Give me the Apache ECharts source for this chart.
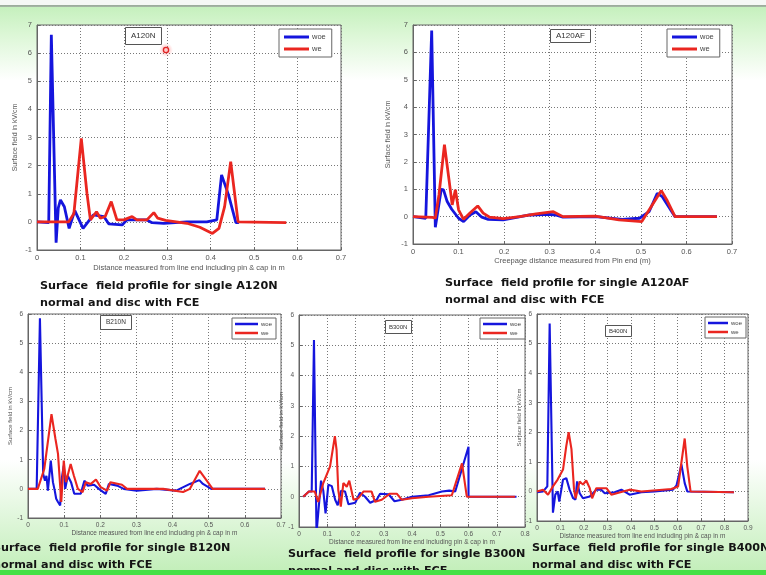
<html>
<head>
<meta charset="utf-8">
<title>Surface field profile</title>
<script src="https://cdn.jsdelivr.net/npm/echarts@6/dist/echarts.min.js"></script>
<style>
  html, body { margin: 0; padding: 0; }
  #main { width: 766px; height: 575px; }
</style>
</head>
<body>
<div id="main"></div>
<script type="text/javascript">
// panel names (box labels) and captions
var plotNames = ['A120N', 'A120AF', 'B210N', 'B300N', 'B400N'];
var captionNames = ['A120N', 'A120AF', 'B120N', 'B300N', 'B400N'];
var seriesNames = ['woe', 'we'];
var xMaxes = [0.7, 0.7, 0.7, 0.8, 0.9];
var yMaxes = [7, 7, 6, 6, 6];
var xTitles = [
    'Distance measured from line end including pin & cap in m',
    'Creepage distance measured from Pin end (m)',
    'Distance measured from line end including pin & cap in m',
    'Distance measured from line end including pin & cap in m',
    'Distance measured from line end including pin & cap in m'
];
var yTitle = 'Surface field in kV/cm';

// A120N
var a120nWoeX = [0, 0.027, 0.033, 0.044, 0.049, 0.054, 0.063, 0.074, 0.087, 0.106, 0.13, 0.154, 0.165, 0.196, 0.207, 0.253, 0.265, 0.292, 0.345, 0.391, 0.414, 0.425, 0.441, 0.458, 0.465];
var a120nWoeY = [0, -0.03, 6.65, -0.74, 0.5, 0.78, 0.54, -0.23, 0.4, -0.23, 0.25, 0.19, -0.07, -0.11, 0.07, 0.07, -0.03, -0.05, 0, 0, 0.07, 1.67, 0.96, -0.03, -0.03];
var a120nWeX = [0, 0.073, 0.085, 0.102, 0.115, 0.123, 0.137, 0.146, 0.157, 0.171, 0.184, 0.2, 0.219, 0.23, 0.253, 0.269, 0.278, 0.296, 0.345, 0.375, 0.404, 0.419, 0.432, 0.446, 0.463, 0.574];
var a120nWeY = [0, 0, 0.3, 2.97, 1.02, 0.07, 0.36, 0.13, 0.19, 0.72, 0.07, 0.07, 0.19, 0.07, 0.07, 0.33, 0.13, 0.05, -0.05, -0.19, -0.41, -0.23, 0.54, 2.14, 0, -0.03];

// A120AF
var a120afWoeX = [0, 0.028, 0.041, 0.049, 0.062, 0.067, 0.075, 0.085, 0.1, 0.111, 0.125, 0.138, 0.151, 0.165, 0.198, 0.256, 0.3, 0.313, 0.329, 0.401, 0.459, 0.497, 0.518, 0.536, 0.547, 0.575, 0.667];
var a120afWoeY = [0, -0.06, 6.8, -0.39, 1.0, 0.98, 0.55, 0.27, -0.06, -0.18, 0.06, 0.18, -0.02, -0.1, -0.12, 0.06, 0.08, 0.06, -0.02, 0, -0.1, -0.06, 0.18, 0.85, 0.73, 0, 0];
var a120afWeX = [0, 0.043, 0.049, 0.057, 0.069, 0.079, 0.086, 0.093, 0.1, 0.111, 0.125, 0.142, 0.154, 0.168, 0.198, 0.234, 0.27, 0.308, 0.329, 0.4, 0.452, 0.502, 0.518, 0.545, 0.557, 0.575, 0.667];
var a120afWeY = [0, -0.03, -0.06, 0.8, 2.63, 1.35, 0.43, 0.98, 0.25, -0.1, 0.13, 0.39, 0.13, -0.02, -0.07, 0, 0.1, 0.18, 0, 0.02, -0.12, -0.18, 0.24, 0.95, 0.61, 0, 0];

// B120N (box label B210N)
var b120nWoeX = [0, 0.024, 0.033, 0.042, 0.047, 0.051, 0.055, 0.063, 0.069, 0.074, 0.078, 0.083, 0.089, 0.094, 0.099, 0.103, 0.11, 0.119, 0.128, 0.146, 0.156, 0.165, 0.183, 0.196, 0.215, 0.224, 0.247, 0.265, 0.301, 0.356, 0.41, 0.448, 0.474, 0.484, 0.507, 0.656];
var b120nWoeY = [0, 0, 5.85, 0.51, 0.28, 0.45, -0.06, 0.97, 0.23, -0.06, -0.34, -0.45, -0.57, 0.4, 0.8, 0, 0.45, 0.23, -0.17, -0.17, 0.28, 0.11, 0.14, 0, -0.17, 0.17, 0.11, 0, -0.06, 0, -0.06, 0.17, 0.3, 0.17, 0, 0];
var b120nWeX = [0, 0.027, 0.045, 0.065, 0.076, 0.083, 0.092, 0.099, 0.105, 0.118, 0.127, 0.138, 0.151, 0.16, 0.174, 0.188, 0.201, 0.219, 0.228, 0.26, 0.274, 0.301, 0.374, 0.429, 0.448, 0.475, 0.511, 0.656];
var b120nWeY = [0, 0, 0.68, 2.56, 1.71, 1.2, -0.45, 0.97, 0.23, 0.85, 0.45, 0, -0.11, 0.23, 0.17, 0.32, 0.06, -0.06, 0.23, 0.14, 0, 0, 0, -0.11, 0, 0.62, 0, 0];

// B300N
var b300nWoeX = [0.015, 0.035, 0.045, 0.053, 0.062, 0.068, 0.078, 0.086, 0.094, 0.104, 0.116, 0.128, 0.137, 0.149, 0.163, 0.175, 0.199, 0.216, 0.234, 0.252, 0.275, 0.287, 0.317, 0.338, 0.364, 0.4, 0.459, 0.506, 0.532, 0.553, 0.6, 0.6, 0.77];
var b300nWoeY = [0, 0.17, 0.17, 5.17, -1.2, -1.2, 0.53, 0.2, -0.55, 0.4, 0.35, -0.1, -0.28, 0.2, 0.17, -0.25, -0.2, 0.13, 0, -0.2, -0.1, 0.1, 0.08, -0.15, -0.1, 0, 0.05, 0.17, 0.2, 0.17, 1.65, 0, 0];
var b300nWeX = [0.015, 0.035, 0.056, 0.068, 0.086, 0.11, 0.127, 0.133, 0.139, 0.148, 0.157, 0.169, 0.178, 0.193, 0.21, 0.228, 0.257, 0.269, 0.293, 0.322, 0.346, 0.364, 0.4, 0.459, 0.541, 0.577, 0.594, 0.765];
var b300nWeY = [0, 0.17, 0.17, -0.17, 0.45, 1.0, 2.0, 1.55, 0.22, -0.33, 0.45, 0.33, 0.53, -0.1, -0.05, 0.17, 0.17, -0.17, -0.1, 0.1, 0.1, -0.1, -0.05, 0, 0.05, 1.1, 0, 0];

// B400N
var b400nWoeX = [0, 0.026, 0.044, 0.054, 0.068, 0.078, 0.088, 0.095, 0.111, 0.125, 0.139, 0.154, 0.164, 0.171, 0.182, 0.196, 0.225, 0.253, 0.274, 0.289, 0.331, 0.36, 0.395, 0.445, 0.502, 0.58, 0.595, 0.616, 0.63, 0.641, 0.84];
var b400nWoeY = [-0.03, 0, 0.17, 5.68, -0.72, -0.11, 0, -0.34, 0.4, 0.45, 0.06, -0.23, -0.28, 0.34, -0.06, -0.23, -0.17, 0.06, 0.06, -0.06, -0.03, 0.06, -0.11, -0.03, 0, 0.06, 0.2, 0.91, 0.28, 0, -0.03];
var b400nWeX = [0, 0.026, 0.047, 0.068, 0.088, 0.111, 0.125, 0.135, 0.147, 0.158, 0.165, 0.182, 0.196, 0.21, 0.225, 0.235, 0.253, 0.296, 0.317, 0.367, 0.395, 0.445, 0.573, 0.602, 0.63, 0.641, 0.655, 0.84];
var b400nWeY = [0, 0.06, -0.11, 0.17, 0.4, 0.74, 1.54, 2.0, 1.43, 0.06, -0.23, 0.34, 0.23, 0.37, 0.11, -0.23, 0.11, 0.11, -0.11, 0, 0.06, 0, 0.08, 0.17, 1.79, 0.85, 0, -0.03];

var woeXs = [a120nWoeX, a120afWoeX, b120nWoeX, b300nWoeX, b400nWoeX];
var woeYs = [a120nWoeY, a120afWoeY, b120nWoeY, b300nWoeY, b400nWoeY];
var weXs = [a120nWeX, a120afWeX, b120nWeX, b300nWeX, b400nWeX];
var weYs = [a120nWeY, a120afWeY, b120nWeY, b300nWeY, b400nWeY];

// layout of each panel (pixels)
var layout = [
    {left: 37, top: 25, width: 304, height: 225, big: true,
     box: [125, 27, [5, 6], 8], legend: [279, 29, 25], xGap: 14, yGap: 18,
     cap: [40, 278]},
    {left: 413, top: 25, width: 319, height: 219, big: true,
     box: [550, 29, [3, 6], 8], legend: [667, 29, 25], xGap: 12, yGap: 21,
     cap: [445, 275]},
    {left: 28, top: 314, width: 253, height: 204, big: false,
     box: [100, 315, [4, 6], 6.5], legend: [232, 318, 23], xGap: 12, yGap: 11,
     cap: [-7, 540]},
    {left: 299, top: 315, width: 226, height: 212, big: false,
     box: [385, 320, [4, 4], 6], legend: [480, 318, 24], xGap: 12, yGap: 10,
     cap: [288, 546]},
    {left: 537, top: 314, width: 211, height: 207, big: false,
     box: [605, 325, [3, 4], 6], legend: [705, 317, 20], xGap: 9, yGap: 2,
     cap: [532, 540]}
];

var blue = '#1515dd';
var red = '#ea2620';

function zip(xs, ys) {
    var out = [];
    for (var i = 0; i < xs.length; i++) out.push([xs[i], ys[i]]);
    return out;
}

var grids = [], xAxes = [], yAxes = [], series = [], titles = [], legends = [], graphics = [];

for (var i = 0; i < 5; i++) {
    var L = layout[i];
    var fs = L.big ? 7.5 : 6.5;
    grids.push({
        left: L.left, top: L.top, width: L.width, height: L.height,
        show: true, backgroundColor: '#fff', borderColor: '#666', borderWidth: 1
    });
    xAxes.push({
        gridIndex: i, type: 'value', min: 0, max: xMaxes[i], interval: 0.1,
        name: xTitles[i], nameLocation: 'middle', nameGap: L.xGap,
        nameTextStyle: {fontSize: fs, color: '#555', fontFamily: 'Liberation Sans'},
        axisLine: {show: true, onZero: false, lineStyle: {color: '#666'}},
        axisTick: {show: true, inside: true, length: 3, lineStyle: {color: '#666'}},
        axisLabel: {fontSize: fs, color: '#555', margin: 4, fontFamily: 'Liberation Sans'},
        splitLine: {show: true, lineStyle: {type: [1, 2], color: '#777'}}
    });
    yAxes.push({
        gridIndex: i, type: 'value', min: -1, max: yMaxes[i], interval: 1,
        name: yTitle, nameLocation: 'middle', nameGap: L.yGap,
        nameTextStyle: {fontSize: fs - 0.5, color: '#555', fontFamily: 'Liberation Sans'},
        axisLine: {show: true, onZero: false, lineStyle: {color: '#666'}},
        axisTick: {show: true, inside: true, length: 3, lineStyle: {color: '#666'}},
        axisLabel: {fontSize: fs, color: '#555', margin: 5, fontFamily: 'Liberation Sans'},
        splitLine: {show: true, lineStyle: {type: [1, 2], color: '#777'}}
    });
    var lw = L.big ? 2.8 : 2.1;
    series.push({
        name: seriesNames[0], type: 'line', xAxisIndex: i, yAxisIndex: i,
        data: zip(woeXs[i], woeYs[i]), symbol: 'none', clip: true,
        lineStyle: {color: blue, width: lw}, itemStyle: {color: blue}, z: 3
    });
    series.push({
        name: seriesNames[1], type: 'line', xAxisIndex: i, yAxisIndex: i,
        data: zip(weXs[i], weYs[i]), symbol: 'none', clip: true,
        lineStyle: {color: red, width: lw}, itemStyle: {color: red}, z: 4
    });
    titles.push({
        text: plotNames[i], left: L.box[0], top: L.box[1], padding: L.box[2],
        borderColor: '#555', borderWidth: 1, backgroundColor: '#fff',
        textStyle: {fontSize: L.box[3], fontWeight: 'normal', color: '#333', fontFamily: 'Liberation Sans'}
    });
    legends.push({
        data: seriesNames, orient: 'vertical', left: L.legend[0], top: L.legend[1],
        itemWidth: L.legend[2], itemHeight: L.big ? 3 : 2.5, icon: 'rect',
        itemGap: L.big ? 4 : 3, padding: L.big ? [4, 6, 4, 5] : [3, 4, 3, 3],
        borderColor: '#666', borderWidth: 1, backgroundColor: '#fff',
        selectedMode: false,
        textStyle: {fontSize: L.big ? 7.5 : 6, color: '#444', fontFamily: 'Liberation Sans', padding: [0, 0, 0, -2]}
    });
    graphics.push({
        type: 'text', left: L.cap[0], top: L.cap[1],
        style: {
            text: 'Surface  field profile for single ' + captionNames[i] + '\nnormal and disc with FCE',
            font: 'bold 11.2px "DejaVu Sans"', fill: '#141414', lineHeight: 17
        }
    });
}

// cursor highlight in first panel
graphics.push({
    type: 'circle', shape: {cx: 166, cy: 50, r: 7},
    style: {fill: {type: 'radial', x: 0.5, y: 0.5, r: 0.5,
        colorStops: [{offset: 0, color: 'rgba(255,60,60,0.55)'}, {offset: 1, color: 'rgba(255,120,120,0)'}]}},
    z: 10
});
graphics.push({
    type: 'circle', shape: {cx: 166, cy: 50, r: 2.6},
    style: {fill: '#ffc8c8', stroke: '#e02525', lineWidth: 1.3},
    z: 11
});
// green strip at the bottom of the slide
graphics.push({
    type: 'rect', shape: {x: 0, y: 570, width: 766, height: 5},
    style: {fill: '#45e045'}, z: 12
});

var myChart = echarts.init(document.getElementById('main'), null, {renderer: 'canvas'});
var option = {
    animation: false,
    backgroundColor: {
        type: 'linear', x: 0, y: 0, x2: 0, y2: 1,
        colorStops: [
            {offset: 0, color: '#f6f8f6'},
            {offset: 0.008, color: '#f6f8f6'},
            {offset: 0.009, color: '#9aaa9a'},
            {offset: 0.012, color: '#a8b8a8'},
            {offset: 0.013, color: '#c6f0be'},
            {offset: 0.06, color: '#dcf7d6'},
            {offset: 0.14, color: '#ffffff'},
            {offset: 0.8, color: '#ffffff'},
            {offset: 0.99, color: '#c4efbb'},
            {offset: 1, color: '#c4efbb'}
        ]
    },
    title: titles,
    legend: legends,
    grid: grids,
    xAxis: xAxes,
    yAxis: yAxes,
    series: series,
    graphic: graphics
};
myChart.setOption(option);
</script>
</body>
</html>
